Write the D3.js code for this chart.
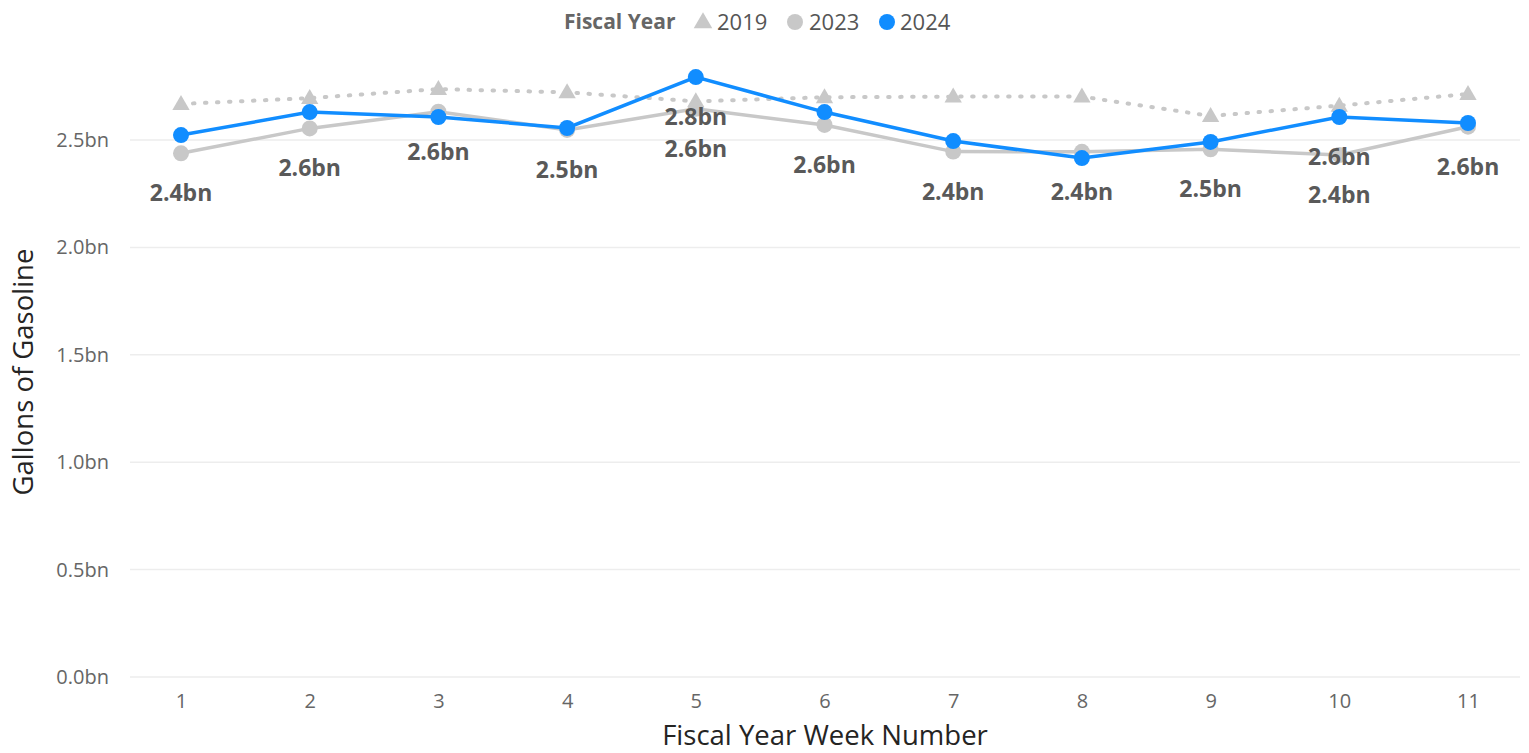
<!DOCTYPE html>
<html><head><meta charset="utf-8">
<script src="https://cdn.jsdelivr.net/npm/d3@7"></script>
<style>
html,body{margin:0;padding:0;background:#fff;}
svg{display:block;font-family:"Open Sans","Noto Sans",sans-serif;}
</style></head>
<body><svg id="c" width="1529" height="753"></svg>
<script>
const weeks = [1,2,3,4,5,6,7,8,9,10,11];
const fy2019 = [2.668,2.695,2.737,2.722,2.680,2.699,2.702,2.702,2.612,2.660,2.714];
const fy2023 = [2.438,2.554,2.632,2.547,2.645,2.570,2.446,2.445,2.457,2.430,2.562];
const fy2024 = [2.523,2.630,2.607,2.556,2.793,2.630,2.495,2.416,2.491,2.607,2.579];
const yTicks = [0,0.5,1.0,1.5,2.0,2.5];
const labels2023 = [1,2,3,4,5,6,7,8,9,10,11];
const labels2024 = [5,10];
const legendTitle = "Fiscal Year";
const seriesNames = ["2019","2023","2024"];

const svg = d3.select("#c");
const x = d3.scalePoint().domain(weeks).range([181,1468]);
const y = d3.scaleLinear().domain([0, 2.5*617/537]).range([677,60]);
const BLUE = "#118DFF", GREY = "#C8C8C8";

// gridlines
svg.append("g").selectAll("line").data(yTicks).join("line")
  .attr("x1",130).attr("x2",1520)
  .attr("y1",d=>y(d)).attr("y2",d=>y(d))
  .attr("stroke","#EDEDED").attr("stroke-width",1.5);

// y axis
const yAxis = svg.append("g").attr("transform","translate(109,0)")
  .call(d3.axisLeft(y).tickValues(yTicks).tickSize(0).tickPadding(0).tickFormat(d=>d3.format(".1f")(d)+"bn"));
yAxis.select(".domain").remove();
yAxis.selectAll("text").attr("font-size",20).attr("fill","#666").attr("font-family","'Open Sans',sans-serif").attr("dy","0.32em");

// x axis
const xAxis = svg.append("g").attr("transform","translate(0,677)")
  .call(d3.axisBottom(x).tickSize(0).tickPadding(17));
xAxis.select(".domain").remove();
xAxis.selectAll("text").attr("font-size",20).attr("fill","#666").attr("font-family","'Open Sans',sans-serif");

// axis titles
svg.append("text").attr("x",825).attr("y",745).attr("text-anchor","middle")
  .attr("font-size",27.5).attr("fill","#252423").text("Fiscal Year Week Number");
svg.append("text").attr("transform","translate(33,372) rotate(-90)").attr("text-anchor","middle")
  .attr("font-size",27.5).attr("fill","#252423").text("Gallons of Gasoline");

const line = d3.line().x((d,i)=>x(weeks[i])).y(d=>y(d));

// 2019
svg.append("path").datum(fy2019).attr("d",line).attr("fill","none")
  .attr("stroke",GREY).attr("stroke-width",4).attr("stroke-linecap","round").attr("stroke-dasharray","1.5 10.5");
const tri = d3.symbol().type(d3.symbolTriangle).size(130);
svg.append("g").selectAll("path").data(fy2019).join("path")
  .attr("d",tri).attr("transform",(d,i)=>`translate(${x(weeks[i])},${y(d)+1})`).attr("fill",GREY);

// 2023
svg.append("path").datum(fy2023).attr("d",line).attr("fill","none")
  .attr("stroke",GREY).attr("stroke-width",3.5);
svg.append("g").selectAll("circle").data(fy2023).join("circle")
  .attr("cx",(d,i)=>x(weeks[i])).attr("cy",d=>y(d)).attr("r",8).attr("fill",GREY);

// 2024
svg.append("path").datum(fy2024).attr("d",line).attr("fill","none")
  .attr("stroke",BLUE).attr("stroke-width",3.5);
svg.append("g").selectAll("circle").data(fy2024).join("circle")
  .attr("cx",(d,i)=>x(weeks[i])).attr("cy",d=>y(d)).attr("r",8).attr("fill",BLUE);

// data labels
function addLabels(vals, wk){
  svg.append("g").selectAll("text").data(wk).join("text")
    .attr("x",w=>x(w)).attr("y",w=>y(vals[weeks.indexOf(w)])+40)
    .attr("dy","0.35em").attr("text-anchor","middle")
    .attr("font-size",23).attr("font-weight","bold").attr("fill","#595959")
    .text(w=>d3.format(".1f")(vals[weeks.indexOf(w)])+"bn");
}
addLabels(fy2023, labels2023);
addLabels(fy2024, labels2024);

// legend
const lg = svg.append("g").attr("transform","translate(0,22)");
lg.append("text").attr("x",564).attr("dy","0.35em").attr("font-size",21).attr("font-weight","bold").attr("fill","#666").text(legendTitle);
lg.append("path").attr("d",d3.symbol().type(d3.symbolTriangle).size(150)).attr("transform","translate(703,1)").attr("fill",GREY);
lg.append("text").attr("x",717).attr("dy","0.35em").attr("font-size",22).attr("fill","#555").text(seriesNames[0]);
lg.append("circle").attr("cx",795).attr("r",8).attr("fill",GREY);
lg.append("text").attr("x",809).attr("dy","0.35em").attr("font-size",22).attr("fill","#555").text(seriesNames[1]);
lg.append("circle").attr("cx",887).attr("r",8).attr("fill",BLUE);
lg.append("text").attr("x",900).attr("dy","0.35em").attr("font-size",22).attr("fill","#555").text(seriesNames[2]);
</script></body></html>
